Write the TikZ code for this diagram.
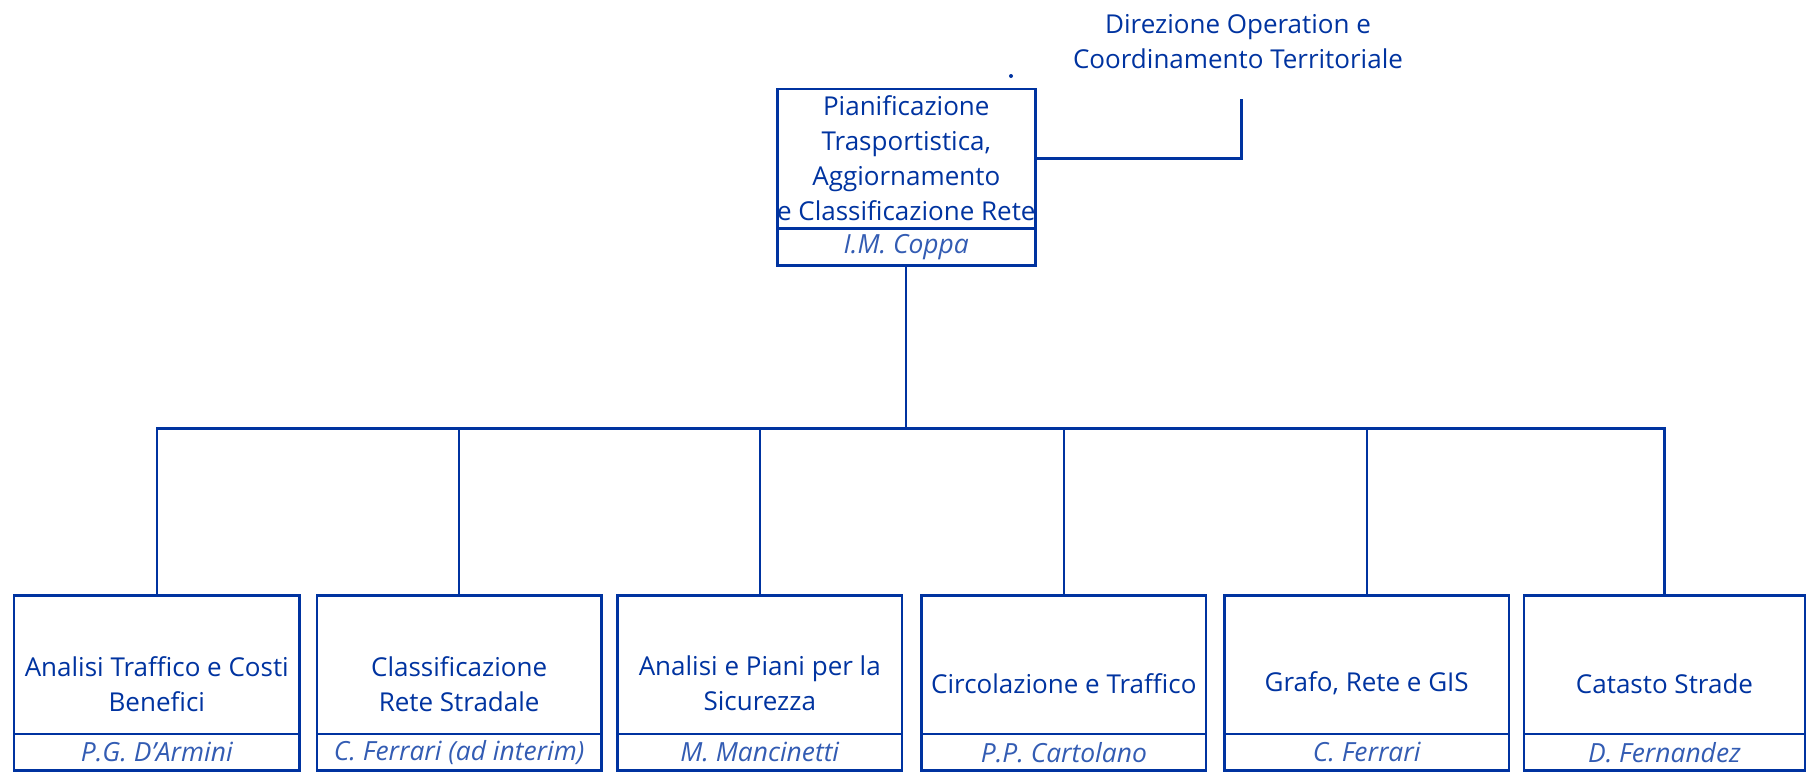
\documentclass[tikz,border=0pt]{standalone}
\usepackage{fontspec}
\setmainfont{Open Sans}
\definecolor{orgblue}{RGB}{0,51,160}
\tikzset{
  box/.style={draw=orgblue, line width=1.3pt, rectangle, inner sep=0pt, anchor=north west},
  txt/.style={text=orgblue, font=\fontsize{13pt}{17.5pt}\selectfont, align=center, inner sep=0pt},
  nametxt/.style={text=orgblue!80!white, font=\fontsize{13.2pt}{17.5pt}\selectfont\itshape, inner sep=0pt},
  conn/.style={draw=orgblue, line width=1.1pt},
}
\begin{document}
\begin{tikzpicture}[x=0.5pt,y=-0.5pt]
\useasboundingbox (0,0) rectangle (1806,772);
% top unit
\node[box, minimum width=129pt, minimum height=69.75pt] (top) at (776,87.5) {};
\node[box, minimum width=129pt, minimum height=18.5pt] (topn) at (776,227) {};
\node[txt] at (top.center) {Pianificazione\\Trasportistica,\\Aggiornamento\\e Classificazione Rete};
\node[nametxt] at (topn.center) {I.M. Coppa};
% direzione
\node[txt] (dir) at (1238,42) {Direzione Operation e\\Coordinamento Territoriale};
\coordinate (dirend) at (1241.5,99);
\draw[conn] (top.east) -| (dirend);
\fill[orgblue] (1011,76) circle (1pt);
% bus
\coordinate (bus) at (905,428.5);
\draw[conn] (topn.south) -- (topn.south |- bus);
% bottom units
\foreach \i/\x/\w/\t/\n in {
 1/12.7/142.8/{Analisi Traffico e Costi\\Benefici}/{P.G. D’Armini},
 2/315.6/142.25/{Classificazione\\Rete Stradale}/{C. Ferrari (ad interim)},
 3/616.2/142.25/{Analisi e Piani per la\\Sicurezza}/{M. Mancinetti},
 4/920.3/142.25/{Circolazione e Traffico}/{P.P. Cartolano},
 5/1223.1/142.3/{Grafo, Rete e GIS}/{C. Ferrari},
 6/1522.7/140.5/{Catasto Strade}/{D. Fernandez}}{
  \node[box, minimum width=\w pt, minimum height=69.1pt] (u\i) at (\x,594.3) {};
  \node[box, minimum width=\w pt, minimum height=18.45pt] (n\i) at (\x,732.5) {};
  \node[txt] (t\i) at ([yshift=-9.5pt]u\i.center) {\t};
  \node[nametxt] (m\i) at (n\i.center) {\n};
}
\draw[conn] (u1.north) -- (u1.north |- bus) -- (u6.north |- bus) -- (u6.north);
\foreach \i in {2,3,4,5}{
  \draw[conn] (u\i.north) -- (u\i.north |- bus);
}
\end{tikzpicture}
\end{document}
